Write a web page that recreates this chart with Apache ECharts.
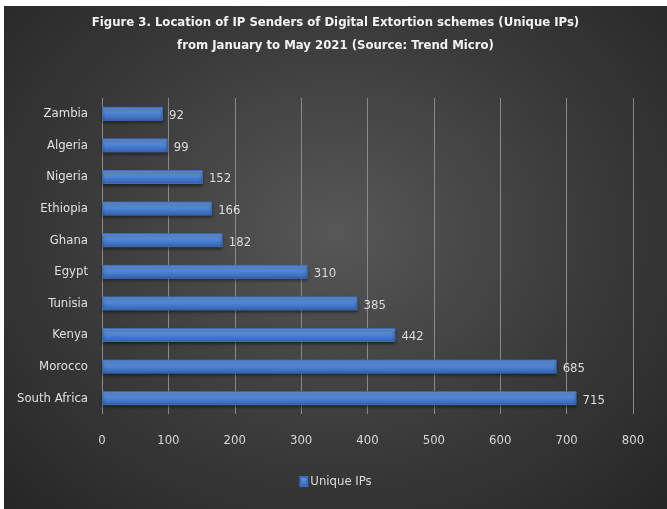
<!DOCTYPE html>
<html>
<head>
<meta charset="utf-8">
<script src="https://cdn.jsdelivr.net/npm/echarts@6/dist/echarts.min.js"></script>
<style>
  html, body { margin: 0; padding: 0; background: #fff; }
  #chart {
    position: absolute; left: 4px; top: 6px; width: 663px; height: 503px;
    background: radial-gradient(ellipse at 50% 45%, #575757 0%, #3a3a3a 55%, #262626 100%);
  }
</style>
</head>
<body>
<div id="chart"></div>
<script>
// 数据（y 轴 category 从下往上排）
const countries = ['South Africa', 'Morocco', 'Kenya', 'Tunisia', 'Egypt', 'Ghana', 'Ethiopia', 'Nigeria', 'Algeria', 'Zambia']
const uniqueIPs = [715, 685, 442, 385, 310, 182, 166, 152, 99, 92]
const xTicks = [0, 100, 200, 300, 400, 500, 600, 700, 800]

const chart = echarts.init(document.getElementById('chart'))
const labelFont = '"DejaVu Sans Condensed", "Liberation Sans Narrow", sans-serif'

const option = {
  title: {
    text: 'Figure 3. Location of IP Senders of Digital Extortion schemes (Unique IPs)\nfrom January to May 2021 (Source: Trend Micro)',
    left: 'center',
    top: 0,
    textStyle: {
      color: '#f2f2f2',
      fontSize: 13,
      fontWeight: 'bold',
      fontFamily: labelFont,
      lineHeight: 23,
    },
  },
  legend: {
    bottom: 16,
    left: 'center',
    itemWidth: 7,
    itemHeight: 9,
    itemGap: 4,
    icon: 'rect',
    textStyle: { color: '#dcdcdc', fontSize: 13, fontFamily: labelFont, padding: [0, 0, 0, -2] },
    data: ['Unique IPs'],
  },
  grid: {
    left: 98,
    right: 34,
    top: 92,
    bottom: 95,
  },
  xAxis: {
    type: 'value',
    min: xTicks[0],
    max: xTicks[xTicks.length - 1],
    interval: 100,
    axisLine: { show: false },
    axisTick: { show: false },
    splitLine: { lineStyle: { color: '#8a8a8a', width: 1 } },
    axisLabel: { color: '#d8d8d8', fontSize: 13, fontFamily: labelFont, margin: 20 },
  },
  yAxis: {
    type: 'category',
    data: countries,
    axisLine: { show: false },
    axisTick: { show: false },
    axisLabel: { color: '#e0e0e0', fontSize: 13, fontFamily: labelFont, margin: 14 },
  },
  series: [
    {
      name: 'Unique IPs',
      type: 'bar',
      data: uniqueIPs,
      barWidth: 14,
      itemStyle: {
        color: new echarts.graphic.LinearGradient(0, 0, 0, 1, [
          { offset: 0, color: '#6e9ee3' },
          { offset: 0.5, color: '#4d83d3' },
          { offset: 1, color: '#3162ad' },
        ]),
        borderColor: '#3c6cb8',
        borderWidth: 1,
        shadowColor: 'rgba(0,0,0,0.5)',
        shadowBlur: 3,
        shadowOffsetY: 2,
      },
      label: {
        show: true,
        position: 'right',
        distance: 6,
        color: '#dcdcdc',
        fontSize: 13,
        fontFamily: labelFont,
        offset: [0, 2],
      },
    },
  ],
}
chart.setOption(option)

window.addEventListener('resize', () => {
  chart.resize()
})
</script>
</body>
</html>
